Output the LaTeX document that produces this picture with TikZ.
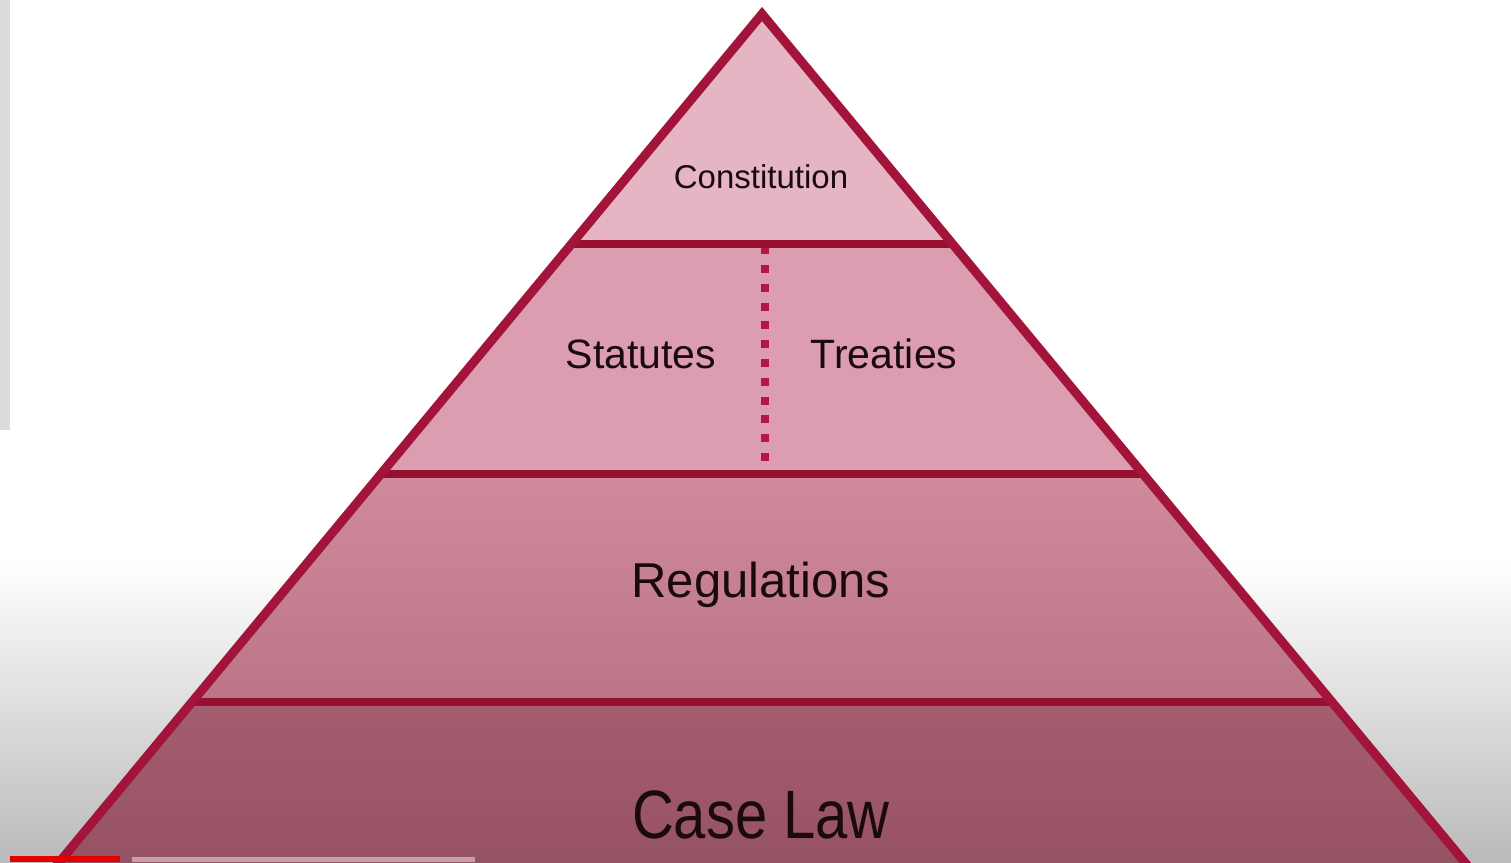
\documentclass[tikz,border=0pt]{standalone}
\usepackage{fontspec}
\newfontfamily\pyrfont{Liberation Sans}
\usetikzlibrary{positioning}

\definecolor{pyredge}{HTML}{A3143A}
\definecolor{pyrsep}{HTML}{96102F}
\definecolor{pyrdot}{HTML}{B0174A}
\definecolor{tierone}{HTML}{E5B5C3}
\definecolor{tiertwo}{HTML}{DB9DAF}
\definecolor{regtop}{HTML}{D08A9C}
\definecolor{regbot}{HTML}{BA7587}
\definecolor{casetop}{HTML}{A55D70}
\definecolor{casebot}{HTML}{92505F}
\definecolor{inkdark}{HTML}{1A0A0E}

\tikzset{
  edge/.style={draw=pyredge, line width=9pt, line join=miter},
  sep/.style={draw=pyrsep, line width=8.5pt},
  dotline/.style={draw=pyrdot, line width=8pt, dash pattern=on 8pt off 10.8pt},
  lbl/.style={text=inkdark, inner sep=0pt, anchor=base},
}

\begin{document}
\begin{tikzpicture}[x=1pt,y=-1pt]

		% canvas
		\useasboundingbox (0,0) rectangle (1511,862);
		\fill[white] (0,0) rectangle (1511,562);
		\shade[top color=white, bottom color=black!27] (0,560) rectangle (1511,862);
		\fill[black!14] (0,0) rectangle (10,430);

		% pyramid corners
		\coordinate (apex) at (762,14);
		\coordinate (bl) at (28,900);
		\coordinate (br) at (1496,900);

		% tiers
		\begin{scope}
			\clip (apex) -- (bl) -- (br) -- cycle;
			\fill[tierone] (0,0) rectangle (1511,244);
			\fill[tiertwo] (0,244) rectangle (1511,474);
			\shade[top color=regtop, bottom color=regbot] (0,474) rectangle (1511,702);
			\shade[top color=casetop, bottom color=casebot] (0,702) rectangle (1511,900);

			% statutes | treaties
			\draw[dotline] (765,246.2) -- (765,466);

			% tier borders
			\foreach \y in {244,474,702}{
				\draw[sep] (0,\y) -- (1511,\y);
			}
		\end{scope}

		% outline
		\draw[edge] (apex) -- (bl) -- (br) -- cycle;

		% labels
		\node[lbl, font=\pyrfont\fontsize{33}{36}\selectfont] (constitution) at (761,188) {Constitution};
		\node[lbl, font=\pyrfont\fontsize{41}{44}\selectfont] (statutes) at (641,368) {Statutes};
		\node[lbl, font=\pyrfont\fontsize{41}{44}\selectfont] (treaties) at (884,368) {Treaties};
		\node[lbl, font=\pyrfont\fontsize{49}{52}\selectfont] (regulations) at (761,597) {Regulations};
		\node[lbl, font=\pyrfont\fontsize{58}{62}\selectfont] (caselaw) at (761,838) {\scalebox{1}[1.18]{Case Law}};

		% player bar
		\fill[red!90!black] (10,856) rectangle (120,862);
		\fill[white, opacity=0.45] (132,857) rectangle (475,862);

\end{tikzpicture}
\end{document}
